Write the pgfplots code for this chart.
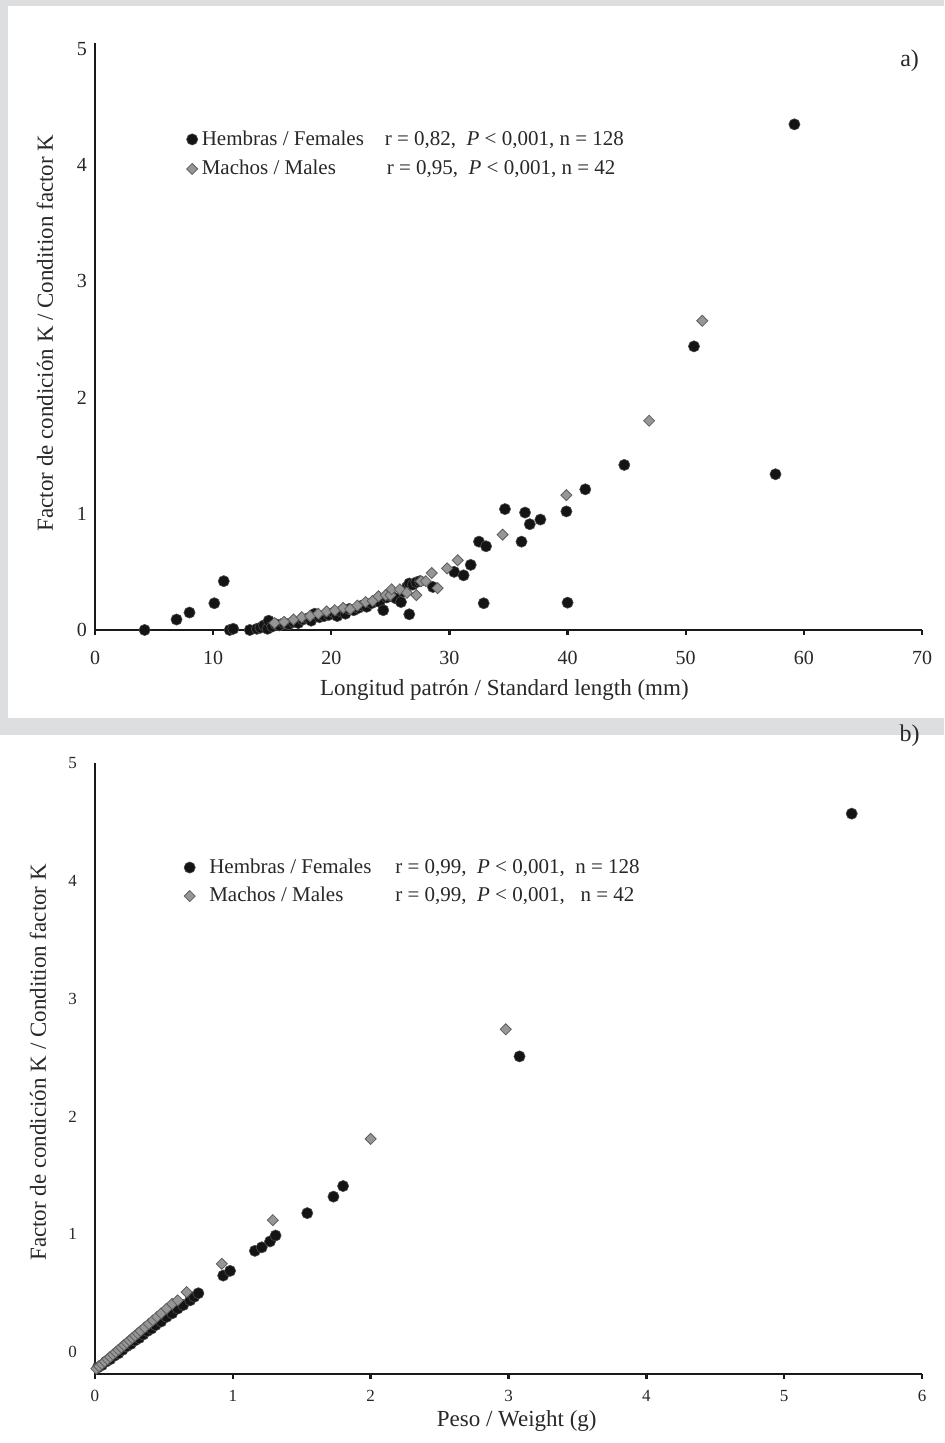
\documentclass[border=0pt]{standalone}
\usepackage{fontspec}
\setmainfont{Liberation Serif}
\usepackage{pgfplots}
\pgfplotsset{compat=1.18}
\definecolor{panelgrey}{RGB}{221,222,224}
\definecolor{txt}{RGB}{40,40,40}
\definecolor{malefill}{RGB}{150,150,150}
\definecolor{maleedge}{RGB}{95,95,95}

\pgfplotsset{
  fishaxis/.style={
    scale only axis,
    clip=false,
    axis lines=left,
    axis line style={-,line width=1.4pt,black!90},
    tick align=outside,
    xtick pos=left,
    ytick pos=left,
    major tick length=2.5pt,
    xtick style={line width=1.2pt,black!90},
    ytick style={draw=none},
    tick label style={text=txt},
    /pgf/number format/assume math mode=true,
    label style={text=txt,font=\fontsize{11.5}{13}\selectfont},
    legend cell align=left,
    legend style={draw=none,fill=none,anchor=north west,
      font=\fontsize{10.5}{12}\selectfont,text=txt,row sep=2pt},
  },
  fem/.style={only marks,mark=*,mark size=2.8pt,
    mark options={fill=black!92,draw=black!70,line width=0.3pt}},
  mal/.style={only marks,mark=square*,mark size=1.95pt,
    mark options={rotate=45,fill=malefill,draw=maleedge,line width=0.4pt}},
}

\begin{document}
\begin{tikzpicture}
\useasboundingbox (0,0) rectangle (472pt,721.5pt);
\fill[panelgrey] (0,0) rectangle (472pt,721.5pt);
\fill[white] (4pt,362.5pt) rectangle (472pt,718.5pt);
\fill[white] (0pt,0pt) rectangle (472pt,354pt);

% a) condition factor vs standard length
\begin{axis}[fishaxis,
  at={(47.5pt,406.5pt)},anchor=south west,
  width=413.5pt,height=293.5pt,
  xmin=0,xmax=70,ymin=0,ymax=5.05,
  xtick={0,10,...,70},ytick={0,1,2,3,4,5},
  tick label style={font=\fontsize{10}{12}\selectfont},
  xticklabel style={yshift=-4.5pt},
  yticklabel style={xshift=2pt},
  xlabel={Longitud patrón / Standard length (mm)},
  ylabel={Factor de condición K / Condition factor K},
  x label style={at={(axis description cs:0.495,0)},anchor=center,yshift=-30pt},
  y label style={at={(axis description cs:0,0.506)},anchor=center,yshift=25pt},
  legend style={at={(axis description cs:0.103,0.865)}},
]
\addplot[fem] coordinates {
 (4.2,0.00) (6.9,0.09) (8.0,0.15) (10.1,0.23) (10.9,0.42) (11.4,0.00) (11.7,0.01)
 (13.1,0.00) (13.7,0.01) (14.0,0.02) (14.3,0.04) (14.6,0.01) (14.7,0.08) (15.0,0.03)
 (15.3,0.05) (15.6,0.04) (16.0,0.06) (16.4,0.05) (16.8,0.07) (17.2,0.06) (17.6,0.09)
 (18.0,0.10) (18.3,0.08) (18.6,0.14) (19.0,0.11) (19.4,0.12) (19.8,0.13) (20.2,0.15)
 (20.5,0.12) (20.8,0.16) (21.2,0.14) (21.5,0.18) (21.9,0.17) (22.3,0.19) (22.6,0.21)
 (23.0,0.20) (23.4,0.23) (23.8,0.25) (24.1,0.24) (24.4,0.17) (24.7,0.28) (25.1,0.29)
 (25.5,0.27) (25.9,0.24) (26.1,0.33) (26.4,0.37) (26.6,0.40) (26.6,0.135) (26.9,0.39)
 (27.2,0.41) (27.5,0.42) (28.6,0.37) (30.4,0.50) (31.2,0.47) (31.8,0.56) (32.5,0.76)
 (33.1,0.72) (32.9,0.23) (34.7,1.04) (36.1,0.76) (36.4,1.01) (36.8,0.91) (37.7,0.95)
 (39.9,1.02) (40.0,0.235) (41.5,1.21) (44.8,1.42) (50.7,2.44) (57.6,1.34) (59.2,4.35)
};
\addlegendentry{\makebox[91.5pt][l]{Hembras / Females}r = 0,82,\ \ \textit{P} < 0,001, n = 128}
\addplot[mal] coordinates {
 (15.2,0.06) (16.0,0.07) (16.8,0.09) (17.5,0.11) (18.2,0.12) (18.9,0.14) (19.6,0.16)
 (20.3,0.17) (21.0,0.19) (21.6,0.18) (22.2,0.21) (22.9,0.24) (23.5,0.25) (24.0,0.29)
 (24.6,0.30) (25.0,0.30) (25.1,0.35) (25.8,0.35) (26.4,0.32) (27.2,0.30) (27.6,0.42)
 (28.0,0.42) (28.5,0.49) (29.0,0.36) (29.8,0.53) (30.7,0.60) (34.5,0.82) (39.9,1.16)
 (46.9,1.80) (51.4,2.66)
};
\addlegendentry{\makebox[92.5pt][l]{Machos / Males}r = 0,95,\ \ \textit{P} < 0,001, n = 42}
\node[anchor=center,text=txt,font=\fontsize{12}{14}\selectfont] at (rel axis cs:0.985,0.97) {a)};
\end{axis}

% b) condition factor vs weight
\begin{axis}[fishaxis,
  at={(47.5pt,34.5pt)},anchor=south west,
  width=413.5pt,height=305.5pt,
  xmin=0,xmax=6,ymin=-0.185,ymax=5.0,
  xtick={0,1,...,6},ytick={0,1,2,3,4,5},
  tick label style={font=\fontsize{8.5}{10}\selectfont},
  xticklabel style={yshift=-2pt},
  yticklabel style={xshift=-3pt},
  xlabel={Peso / Weight (g)},
  ylabel={Factor de condición K / Condition factor K},
  x label style={at={(axis description cs:0.51,0)},anchor=center,yshift=-23.5pt},
  y label style={at={(axis description cs:0,0.51)},anchor=center,yshift=28.5pt},
  legend style={at={(axis description cs:0.1,0.857)},row sep=1.5pt},
]
\addplot[fem] coordinates {
 (0.02,-0.13) (0.05,-0.11) (0.08,-0.08) (0.11,-0.06) (0.14,-0.03) (0.17,-0.01)
 (0.20,0.02) (0.23,0.05) (0.26,0.07) (0.29,0.10) (0.32,0.12) (0.35,0.15) (0.38,0.18)
 (0.41,0.20) (0.44,0.23) (0.48,0.26) (0.52,0.30) (0.56,0.33) (0.60,0.37) (0.64,0.40)
 (0.69,0.44) (0.72,0.47) (0.75,0.50) (0.93,0.65) (0.98,0.69) (1.16,0.86) (1.21,0.89)
 (1.27,0.94) (1.31,0.99) (1.54,1.18) (1.73,1.32) (1.80,1.41) (3.08,2.51) (5.49,4.57)
};
\addlegendentry{\hspace{5pt}\makebox[93pt][l]{Hembras / Females}r = 0,99,\ \ \textit{P} < 0,001,\ \ n = 128}
\addplot[mal] coordinates {
 (0.01,-0.14) (0.03,-0.12) (0.05,-0.10) (0.07,-0.08) (0.09,-0.06) (0.11,-0.04)
 (0.13,-0.02) (0.15,0.00) (0.17,0.02) (0.19,0.04) (0.21,0.06) (0.23,0.08) (0.25,0.10)
 (0.27,0.12) (0.29,0.14) (0.31,0.16) (0.33,0.18) (0.36,0.21) (0.39,0.24) (0.42,0.27)
 (0.45,0.30) (0.48,0.33) (0.52,0.37) (0.56,0.41) (0.60,0.44) (0.665,0.51) (0.92,0.75)
 (1.29,1.12) (2.00,1.81) (2.98,2.74)
};
\addlegendentry{\hspace{5pt}\makebox[93pt][l]{Machos / Males}r = 0,99,\ \ \textit{P} < 0,001,\ \ \ n = 42}
\node[anchor=center,text=txt,font=\fontsize{12}{14}\selectfont] at (rel axis cs:0.985,1.045) {b)};
\end{axis}
\end{tikzpicture}
\end{document}
